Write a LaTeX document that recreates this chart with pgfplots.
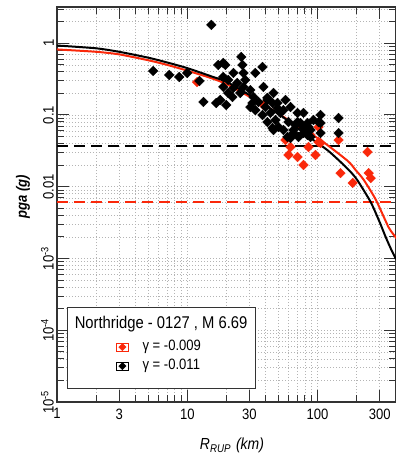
\documentclass[border=0pt]{standalone}
\usepackage{pgfplots}
\pgfplotsset{compat=1.18}
\usepackage{fontspec}
\setmainfont[FakeStretch=0.87]{Liberation Sans}
\definecolor{myred}{RGB}{250,40,10}
\definecolor{gridc}{RGB}{180,180,180}
\begin{document}
\begin{tikzpicture}
\path[use as bounding box] (-57pt,-53pt) rectangle (338.5pt,402pt);
\begin{axis}[
  scale only axis, width=339pt, height=395pt,
  xmode=log, ymode=log,
  xmin=1, xmax=400, ymin=1e-5, ymax=3.2,
  xtick={1,3,10,30,100,300},
  xticklabels={1,3,10,30,100,300},
  minor xtick={2,4,5,6,7,8,9,20,40,50,60,70,80,90,200,400},
  ytick={1e-5,1e-4,1e-3,0.01,0.1,1},
  yticklabels={10\textsuperscript{-5},10\textsuperscript{-4},10\textsuperscript{-3},0.01,0.1,1},
  minor ytick={2e-5,3e-5,4e-5,5e-5,6e-5,7e-5,8e-5,9e-5,
               2e-4,3e-4,4e-4,5e-4,6e-4,7e-4,8e-4,9e-4,
               2e-3,3e-3,4e-3,5e-3,6e-3,7e-3,8e-3,9e-3,
               0.02,0.03,0.04,0.05,0.06,0.07,0.08,0.09,
               0.2,0.3,0.4,0.5,0.6,0.7,0.8,0.9,2,3},
  grid=both,
  major grid style={gridc, line width=0.6pt, dash pattern=on 1pt off 2pt},
  minor grid style={gridc, line width=0.6pt, dash pattern=on 1pt off 2pt},
  major tick length=12pt, minor tick length=7pt,
  tick style={black!80, line width=1pt},
  axis line style={black!80, line width=1.2pt},
  ticklabel style={font=\fontsize{15}{18}\selectfont},
  xticklabel style={yshift=-3pt},
  yticklabel style={rotate=90, anchor=south, inner sep=3pt},
  xlabel={\textit{R}\textsubscript{\textit{RUP}}\hspace{5pt}\textit{(km)}},
  ylabel={\textbf{\textit{pga (g)}}},
  xlabel style={at={(axis description cs:0.516,-0.110)}, anchor=center, font=\fontsize{16}{19}\selectfont},
  ylabel style={at={(axis description cs:-0.100,0.519)}, anchor=center, font=\fontsize{15}{18}\selectfont},
  legend image code/.code={\path (-6pt,-4pt) rectangle (6pt,4pt);
    \draw[mark repeat=2,mark phase=2,#1,mark size=2.6pt] plot coordinates {(-6pt,0pt) (0pt,0pt) (6pt,0pt)};},
  legend style={at={(axis description cs:0.174,0.115)}, anchor=west, draw=none, fill=none,
    inner sep=0pt, font=\fontsize{15}{18}\selectfont,
    nodes={inner sep=2pt, text height=11pt, text depth=4pt}, /tikz/column sep=12pt},
  legend cell align=left,
]
\draw[black!80, line width=1pt, fill=white] (rel axis cs:0.0324,0.0354) rectangle (rel axis cs:0.587,0.2405);
\node[anchor=base, font=\fontsize{17}{20}\selectfont] at (rel axis cs:0.307,0.187) {Northridge - 0127 , M 6.69};

\addplot[myred, line width=1.8pt, dash pattern=on 11pt off 6pt, forget plot] coordinates {(1,0.0062) (400,0.0062)};
\addplot[black, line width=1.8pt, dash pattern=on 11pt off 6pt, forget plot] coordinates {(1,0.037) (400,0.037)};

\addplot[myred, line width=2pt, smooth, tension=0.4, forget plot] coordinates {
(1,0.82) (2,0.76) (3,0.70) (5,0.58) (7,0.50) (10,0.415) (15,0.33) (20,0.27) (30,0.18) (50,0.105) (70,0.070) (105,0.045) (170,0.0230) (196,0.0171) (226,0.0125) (280,0.0066) (352,0.0027) (405,0.0019)};
\addplot[black, line width=2pt, smooth, tension=0.4, forget plot] coordinates {
(1,0.93) (2,0.85) (3,0.76) (5,0.63) (7,0.54) (10,0.45) (15,0.35) (20,0.29) (30,0.19) (50,0.104) (70,0.066) (88,0.048) (120,0.032) (150,0.0222) (180,0.0160) (203,0.0122) (256,0.0061) (300,0.0032) (333,0.0020) (370,0.0013) (400,0.00098)};

\addplot[only marks, mark=square*, mark size=3.4pt, mark options={rotate=45, fill=myred, draw=myred}, myred] coordinates {
(11.9,0.288) (38.4,0.138) (56.7,0.0448) (62.0,0.0358) (59.8,0.0277) (70.2,0.0260) (78.0,0.0201) (85.3,0.0358) (96.5,0.0277) (101.8,0.0420) (88.3,0.0526) (145,0.0448) (150,0.0155) (186,0.0113) (242,0.0305) (247,0.0155) (256,0.0132) (101.8,0.0680) (105.5,0.0407)};
\addlegendentry{γ = -0.009}

\addplot[only marks, mark=square*, mark size=3.4pt, mark options={rotate=45, fill=black, draw=black}, black] coordinates {
(5.47,0.411) (7.27,0.361) (8.68,0.339) (10.0,0.385) (12.4,0.298) (15.3,1.80) (13.3,0.152) (16.7,0.147) (19.9,0.138) (17.3,0.498) (19.6,0.498) (18.9,0.531) (26.0,0.644) (26.5,0.498) (37.8,0.467) (22.6,0.385) (27.0,0.385) (33.3,0.385) (20.6,0.308) (24.2,0.279) (18.9,0.339) (18.9,0.246) (22.6,0.238) (27.0,0.246) (30.5,0.223) (20.6,0.203) (25.5,0.203) (32.2,0.178) (35.2,0.152) (41.2,0.173) (31.6,0.147) (33.3,0.117) (39.8,0.129) (45.1,0.147) (37.8,0.100) (43.5,0.107) (49.2,0.125) (41.2,0.0798) (47.5,0.0851) (45.1,0.0659) (50.1,0.0680) (38.4,0.246) (45.9,0.203) (41.2,0.162) (49.2,0.147) (51.9,0.107) (62.0,0.129) (70.2,0.107) (59.8,0.0798) (78.0,0.107) (74.0,0.0773) (45.9,0.0618) (54.7,0.0618) (65.4,0.0618) (85.3,0.0680) (83.8,0.0526) (71.4,0.0493) (101.8,0.0798) (105.5,0.100) (105.5,0.0561) (145,0.0908) (145,0.0561) (62.0,0.0478) (56.7,0.162) (54.7,0.117) (88.3,0.0618) (88.3,0.0493) (22.2,0.178) (17.9,0.162) (30.5,0.129) (27.9,0.308) (58.8,0.0493) (67.7,0.0726) (93.0,0.0851) (78.0,0.0659) (105.5,0.0773) (83.8,0.0773) (70.2,0.0798) (65.4,0.0561) (78.0,0.0561)};
\addlegendentry{γ = -0.011}
\end{axis}
\end{tikzpicture}
\end{document}
